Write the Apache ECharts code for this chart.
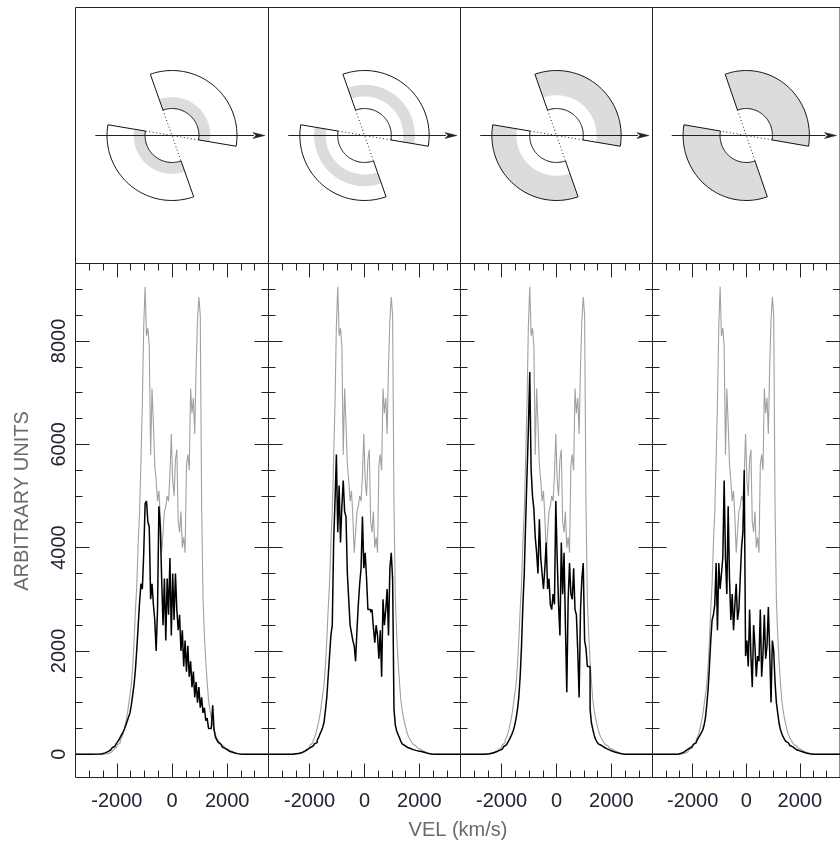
<!DOCTYPE html>
<html>
<head>
<meta charset="utf-8">
<script src="https://cdn.jsdelivr.net/npm/echarts@6/dist/echarts.min.js"></script>
<style>
  html, body { margin: 0; padding: 0; background: #ffffff; }
  #chart { width: 840px; height: 849px; }
</style>
</head>
<body>
<div id="chart"></div>
<script>
// ---- spectra: 50 km/s bins from -2600 to +2600 km/s ----
const VEL_START = -2600;
const VEL_STEP = 50;

// total profile (grey, same in every panel)
const TOTAL_PROFILE = [
  0, 0, 0, 0, 5, 12, 20, 32, 48, 68,
  90, 120, 150, 185, 220, 270, 320, 400, 500, 620,
  760, 950, 1150, 1350, 1700, 2200, 2800, 3300, 4100, 4700,
  5700, 6800, 8300, 9050, 8100, 8250, 7900, 5800, 7080, 6400,
  5600, 5300, 4900, 5100, 4600, 3900, 4300, 4700, 4800, 5000,
  4900, 5400, 6200, 5300, 5000, 5700, 5900, 4500, 4300, 4700,
  4000, 4200, 3900, 5600, 5800, 5500, 7080, 6600, 6900, 6200,
  7500, 8400, 8850, 8500, 4800, 3000, 2300, 1800, 1400, 1050,
  850, 700, 580, 470, 380, 320, 270, 230, 190, 165,
  140, 120, 100, 85, 70, 57, 45, 35, 25, 17,
  10, 5, 0, 0, 0
];

// emission from the highlighted zone of each panel (black)
const ZONE_1 = [
  5, 10, 18, 27, 38, 50, 65, 82, 100, 125,
  150, 175, 200, 240, 280, 330, 380, 430, 490, 560,
  640, 720, 800, 950, 1150, 1350, 1650, 2050, 2500, 2950,
  3300, 3200, 3900, 4850, 4900, 4500, 4400, 3000, 3300, 2900,
  2600, 2000, 2800, 4800, 4400, 3400, 2500, 3400, 2200, 3400,
  2700, 3800, 2300, 3500, 2600, 3500, 2800, 2400, 2700, 2000,
  2400, 1700, 2200, 1600, 2100, 1500, 1800, 1300, 1600, 1100,
  1400, 1000, 1300, 900, 1100, 800, 900, 650, 700, 500,
  500, 520, 950, 480, 330, 280, 230, 195, 165, 140,
  115, 95, 80, 65, 52, 42, 33, 25, 18, 12,
  7, 3, 0, 0, 0
];
const ZONE_2 = [
  0, 3, 8, 13, 20, 28, 37, 48, 60, 75,
  92, 110, 130, 145, 160, 180, 200, 225, 270, 320,
  390, 450, 520, 620, 850, 1100, 1500, 1900, 2300, 2500,
  4100, 4900, 5800, 4300, 5200, 4100, 4800, 5300, 4700, 4600,
  3500, 3000, 2500, 2350, 2200, 2100, 1800, 2400, 2900, 3300,
  3600, 4600, 3600, 3900, 3400, 2800, 2800, 2750, 2800, 2450,
  2160, 2500, 2300, 1850, 2400, 1500, 3000, 2500, 2800, 3200,
  2300, 3600, 3900, 3400, 870, 560, 450, 380, 320, 250,
  200, 165, 145, 130, 120, 110, 100, 90, 82, 75,
  68, 62, 58, 52, 45, 38, 30, 22, 15, 10,
  6, 3, 0, 0, 0
];
const ZONE_3 = [
  0, 3, 7, 12, 18, 25, 33, 42, 52, 63,
  75, 85, 100, 125, 150, 180, 200, 230, 280, 330,
  390, 460, 560, 690, 860, 1100, 1500, 2100, 2900, 3500,
  4500, 5400, 6300, 7400, 5500, 5000, 4750, 4200, 3900, 3500,
  4550, 3800, 3500, 3200, 3600, 4100, 3200, 3400, 2900, 2800,
  3100, 2900, 4900, 3800, 2900, 2300, 4100, 3100, 3900, 2500,
  1200, 3000, 3700, 3100, 3000, 3600, 2800, 2700, 2000, 1100,
  2800, 3400, 3700, 2200, 2050, 1700, 1700, 870, 600, 480,
  370, 290, 240, 200, 175, 155, 140, 127, 110, 97,
  85, 73, 62, 52, 43, 35, 28, 21, 15, 10,
  6, 2, 0, 0, 0
];
const ZONE_4 = [
  0, 5, 12, 20, 30, 42, 58, 80, 100, 115,
  130, 145, 160, 190, 220, 250, 285, 325, 370, 420,
  470, 560, 700, 950, 1250, 1700, 2200, 2600, 2700, 2900,
  3700, 2400, 3700, 3200, 3500, 3800, 5300, 3800, 3100, 4800,
  3400, 2600, 3100, 2400, 2900, 3300, 2600, 2800, 3400, 4000,
  4300, 5500, 1900, 2200, 1700, 2800, 1900, 1300, 2500, 2100,
  1500, 1900, 1800, 2800, 1500, 1950, 2700, 1850, 2100, 2850,
  2000, 1000, 2200, 2000, 1400, 1000, 800, 600, 480, 400,
  340, 290, 250, 220, 195, 170, 148, 128, 110, 95,
  82, 71, 62, 52, 43, 35, 28, 21, 15, 10,
  6, 2, 0, 0, 0
];
const ZONES = [ZONE_1, ZONE_2, ZONE_3, ZONE_4];

// axis ranges and ticks
const VEL_MIN = -3500, VEL_MAX = 3500;
const FLUX_MIN = -450, FLUX_MAX = 9500;
const VEL_MAJOR = [-2000, 0, 2000];
const VEL_MINOR = [-3000, -2500, -1500, -1000, -500, 500, 1000, 1500, 2500, 3000];
const FLUX_MAJOR = [0, 2000, 4000, 6000, 8000];
const FLUX_MINOR = [500, 1000, 1500, 2500, 3000, 3500, 4500, 5000, 5500, 6500, 7000, 7500, 8500, 9000];

// ---- bicone sketch (lengths in units of the outer radius) ----
const CONE_STARTS = [-9.5, 170.5];   // degrees, counter-clockwise from the arrow
const CONE_SPAN = 119;
const INNER_R = 0.415;
const OUTER_R = 1.0;
const HIGHLIGHT_BANDS = [[0.415, 0.59], [0.6, 0.78], [0.62, 1.0], [0.415, 1.0]];
const ARROW_FROM = -1.18, ARROW_TO = 1.43;

// ---- layout ----
const PANEL_EDGES = [75, 268, 460, 652, 845];
const SKETCH_TOP = 7.5, SKETCH_H = 256;
const SPEC_TOP = 263.5, SPEC_H = 514;
const SKETCH_HALF_W = 1.485, SKETCH_HALF_H = 1.97;
const ARC_STEPS = 60;

const FONT = '"Liberation Sans", Arial, sans-serif';
const FRAME = '#222222';

function profilePoints(values) {
  const pts = [[VEL_MIN, 0]];
  values.forEach((v, i) => pts.push([VEL_START + i * VEL_STEP, v]));
  pts.push([VEL_MAX, 0]);
  return pts;
}

function drawBicone(band) {
  return function (params, api) {
    const rad = Math.PI / 180;
    const at = (r, deg) => api.coord([r * Math.cos(deg * rad), r * Math.sin(deg * rad)]);
    const ring = (r0, r1, a0, a1) => {
      const pts = [];
      for (let k = 0; k <= ARC_STEPS; k++) pts.push(at(r1, a0 + (a1 - a0) * k / ARC_STEPS));
      for (let k = ARC_STEPS; k >= 0; k--) pts.push(at(r0, a0 + (a1 - a0) * k / ARC_STEPS));
      return pts;
    };
    const children = [];
    CONE_STARTS.forEach(a0 => {
      children.push({
        type: 'polygon',
        shape: { points: ring(band[0], band[1], a0, a0 + CONE_SPAN) },
        style: { fill: '#dcdcdc', stroke: null }
      });
    });
    CONE_STARTS.forEach(a0 => {
      children.push({
        type: 'polygon',
        shape: { points: ring(INNER_R, OUTER_R, a0, a0 + CONE_SPAN) },
        style: { fill: 'none', stroke: '#111111', lineWidth: 1 }
      });
    });
    // cone edges continued through the nucleus
    [CONE_STARTS[0], CONE_STARTS[0] + CONE_SPAN].forEach(a => {
      const p = at(INNER_R, a), q = at(INNER_R, a + 180);
      children.push({
        type: 'line',
        shape: { x1: p[0], y1: p[1], x2: q[0], y2: q[1] },
        style: { stroke: '#222222', lineWidth: 1, lineDash: [1, 2.5] }
      });
    });
    // line-of-sight arrow
    const s = api.coord([ARROW_FROM, 0]);
    const e = api.coord([ARROW_TO, 0]);
    const headLen = 12, headHalf = 3;
    children.push({
      type: 'line',
      shape: { x1: s[0], y1: s[1], x2: e[0] - headLen + 1, y2: e[1] },
      style: { stroke: '#222222', lineWidth: 1 }
    });
    children.push({
      type: 'polygon',
      shape: { points: [[e[0], e[1]], [e[0] - headLen, e[1] - headHalf], [e[0] - headLen + 3, e[1]], [e[0] - headLen, e[1] + headHalf]] },
      style: { fill: '#222222', stroke: '#222222', lineWidth: 0.5 }
    });
    return { type: 'group', children };
  };
}

const grids = [], xAxes = [], yAxes = [], series = [];

// top row: sketches
for (let i = 0; i < 4; i++) {
  grids.push({
    left: PANEL_EDGES[i] + 0.5, top: SKETCH_TOP,
    width: PANEL_EDGES[i + 1] - PANEL_EDGES[i], height: SKETCH_H,
    show: true, borderColor: FRAME, borderWidth: 1, backgroundColor: 'transparent'
  });
  const xi = xAxes.length, yi = yAxes.length;
  xAxes.push({ gridIndex: i, type: 'value', min: -SKETCH_HALF_W, max: SKETCH_HALF_W, show: false });
  yAxes.push({ gridIndex: i, type: 'value', min: -SKETCH_HALF_H, max: SKETCH_HALF_H, show: false });
  series.push({
    type: 'custom', coordinateSystem: 'cartesian2d',
    xAxisIndex: xi, yAxisIndex: yi, clip: false, silent: true,
    data: [[0, 0]],
    renderItem: drawBicone(HIGHLIGHT_BANDS[i])
  });
}

// bottom row: spectra
const tickStyle = { color: FRAME, width: 1 };
for (let i = 0; i < 4; i++) {
  const g = grids.length;
  grids.push({
    left: PANEL_EDGES[i] + 0.5, top: SPEC_TOP,
    width: PANEL_EDGES[i + 1] - PANEL_EDGES[i], height: SPEC_H,
    show: true, borderColor: FRAME, borderWidth: 1, backgroundColor: 'transparent'
  });
  const xBase = { gridIndex: g, type: 'value', min: VEL_MIN, max: VEL_MAX,
    axisLine: { show: false, onZero: false }, splitLine: { show: false }, axisLabel: { show: false } };
  const yBase = { gridIndex: g, type: 'value', min: FLUX_MIN, max: FLUX_MAX,
    axisLine: { show: false, onZero: false }, splitLine: { show: false }, axisLabel: { show: false } };
  const xMain = xAxes.length;
  xAxes.push(Object.assign({}, xBase, {
    position: 'bottom',
    axisTick: { show: true, inside: true, length: 14, customValues: VEL_MAJOR, lineStyle: tickStyle },
    axisLabel: { show: true, customValues: VEL_MAJOR, formatter: v => String(v),
      fontSize: 20, fontFamily: FONT, color: '#222233', margin: 14 }
  }));
  xAxes.push(Object.assign({}, xBase, { position: 'bottom',
    axisTick: { show: true, inside: true, length: 7, customValues: VEL_MINOR, lineStyle: tickStyle } }));
  xAxes.push(Object.assign({}, xBase, { position: 'top',
    axisTick: { show: true, inside: true, length: 14, customValues: VEL_MAJOR, lineStyle: tickStyle } }));
  xAxes.push(Object.assign({}, xBase, { position: 'top',
    axisTick: { show: true, inside: true, length: 7, customValues: VEL_MINOR, lineStyle: tickStyle } }));

  const yMain = yAxes.length;
  yAxes.push(Object.assign({}, yBase, {
    position: 'left',
    axisTick: { show: true, inside: true, length: 14, customValues: FLUX_MAJOR, lineStyle: tickStyle },
    axisLabel: { show: i === 0, customValues: FLUX_MAJOR, formatter: v => String(v), rotate: 90,
      fontSize: 20, fontFamily: FONT, color: '#222233', margin: 6 }
  }));
  yAxes.push(Object.assign({}, yBase, { position: 'left',
    axisTick: { show: true, inside: true, length: 7, customValues: FLUX_MINOR, lineStyle: tickStyle } }));
  yAxes.push(Object.assign({}, yBase, { position: 'right',
    axisTick: { show: true, inside: true, length: 14, customValues: FLUX_MAJOR, lineStyle: tickStyle } }));
  yAxes.push(Object.assign({}, yBase, { position: 'right',
    axisTick: { show: true, inside: true, length: 7, customValues: FLUX_MINOR, lineStyle: tickStyle } }));

  series.push({
    type: 'line', xAxisIndex: xMain, yAxisIndex: yMain, step: 'middle',
    data: profilePoints(TOTAL_PROFILE), showSymbol: false, symbol: 'none', silent: true,
    lineStyle: { color: '#a0a0a0', width: 1.1 }
  });
  series.push({
    type: 'line', xAxisIndex: xMain, yAxisIndex: yMain, step: 'middle',
    data: profilePoints(ZONES[i]), showSymbol: false, symbol: 'none', silent: true,
    lineStyle: { color: '#000000', width: 1.5 }
  });
}

const chart = echarts.init(document.getElementById('chart'), null, { renderer: 'canvas' });
chart.setOption({
  animation: false,
  backgroundColor: '#ffffff',
  grid: grids,
  xAxis: xAxes,
  yAxis: yAxes,
  series: series,
  graphic: [
    { type: 'text', x: 22, y: 501, rotation: Math.PI / 2,
      style: { text: 'ARBITRARY UNITS', fill: '#6a6a6a', font: '20px ' + FONT,
        textAlign: 'center', textVerticalAlign: 'middle' } },
    { type: 'text', x: 458, y: 830,
      style: { text: 'VEL (km/s)', fill: '#6a6a6a', font: '20px ' + FONT,
        textAlign: 'center', textVerticalAlign: 'middle' } }
  ]
});
</script>
</body>
</html>
